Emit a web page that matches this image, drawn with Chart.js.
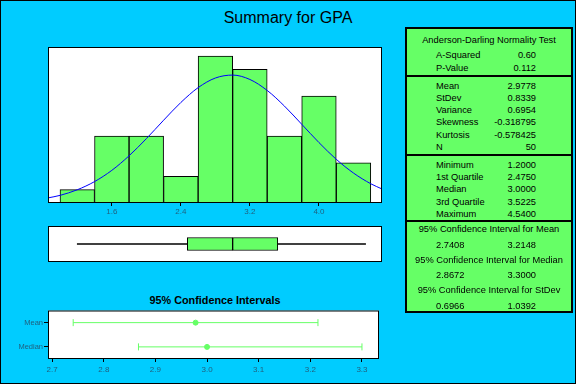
<!DOCTYPE html>
<html>
<head>
<meta charset="utf-8">
<script src="https://cdn.jsdelivr.net/npm/chart.js@4"></script>
<style>
html, body { margin: 0; padding: 0; }
#frame { position: relative; width: 576px; height: 384px; background: #00ccff; overflow: hidden;
  font-family: "Liberation Sans", Arial, sans-serif; }
canvas { position: absolute; }
.t { position: absolute; white-space: nowrap; color: #000; }
.s { font-size: 9.3px; line-height: 12px; }
#border { position: absolute; left: 0; top: 0; width: 576px; height: 384px; box-sizing: border-box; border: 1px solid #000; }
#stats { position: absolute; left: 405px; top: 27px; width: 168px; height: 286px; box-sizing: border-box;
  border: 2px solid #000; background: #66ff66; }
.sep { position: absolute; left: 405px; width: 168px; height: 2px; background: #000; }
</style>
</head>
<body>
<div id="frame">
  <div class="t" style="left:0;width:576px;top:10px;text-align:center;font-size:16px;line-height:16px;">Summary for GPA</div>
  <canvas id="hist" width="334" height="176" style="left:48px;top:47px;"></canvas>
  <canvas id="box" width="334" height="36" style="left:48px;top:226px;"></canvas>
  <div class="t" style="left:48px;width:334px;top:294px;text-align:center;font-size:10.8px;line-height:12px;font-weight:bold;">95% Confidence Intervals</div>
  <canvas id="ci" width="384" height="76" style="left:0;top:305px;"></canvas>
  <div id="stats"></div>
  <div class="sep" style="top:75px;"></div>
  <div class="sep" style="top:154px;"></div>
  <div class="sep" style="top:220px;"></div>
  <div id="statText"></div>
  <div id="border"></div>
</div>
<script>
// histogram of GPA
const binCenters = [1.2, 1.6, 2.0, 2.4, 2.8, 3.2, 3.6, 4.0, 4.4];
const binCounts = [1, 5, 5, 2, 11, 10, 5, 8, 3];
const histTicks = [1.6, 2.4, 3.2, 4.0];

// fitted normal curve
const curveX = [0.86, 1.0, 1.2, 1.4, 1.6, 1.8, 2.0, 2.2, 2.4, 2.6, 2.8, 3.0, 3.2, 3.4, 3.6, 3.8, 4.0, 4.2, 4.4, 4.6, 4.73];
const curveY = [0.38, 0.57, 0.99, 1.60, 2.44, 3.53, 4.81, 6.19, 7.52, 8.63, 9.35, 9.57, 9.24, 8.42, 7.25, 5.89, 4.52, 3.27, 2.24, 1.44, 1.05];

// boxplot: min, q1, median, q3, max
const boxStats = [1.2, 2.475, 3.0, 3.5225, 4.54];

// confidence intervals
const ciLabels = ['Mean', 'Median'];
const ciLow = [2.7408, 2.8672];
const ciEst = [2.9778, 3.0];
const ciHigh = [3.2148, 3.3];
const ciTicks = [2.7, 2.8, 2.9, 3.0, 3.1, 3.2, 3.3];

// summary table
const adLabels = ['A-Squared', 'P-Value'];
const adValues = ['0.60', '0.112'];
const momentLabels = ['Mean', 'StDev', 'Variance', 'Skewness', 'Kurtosis', 'N'];
const momentValues = ['2.9778', '0.8339', '0.6954', '-0.318795', '-0.578425', '50'];
const quantLabels = ['Minimum', '1st Quartile', 'Median', '3rd Quartile', 'Maximum'];
const quantValues = ['1.2000', '2.4750', '3.0000', '3.5225', '4.5400'];
const ciHeaders = ['95% Confidence Interval for Mean', '95% Confidence Interval for Median', '95% Confidence Interval for StDev'];
const ciTableLow = ['2.7408', '2.8672', '0.6966'];
const ciTableHigh = ['3.2148', '3.3000', '1.0392'];

const tickColor = '#20607f';
const green = '#66ff66';
const xMin = 0.861, xMax = 4.73;

// white plot area with a black frame
const frameBox = {
  id: 'frameBox',
  beforeDatasetsDraw(chart) {
    const a = chart.chartArea, c = chart.ctx;
    c.save();
    c.fillStyle = '#fff';
    c.fillRect(a.left, a.top, a.width, a.height);
    c.restore();
  },
  afterDatasetsDraw(chart) {
    const a = chart.chartArea, c = chart.ctx;
    c.save();
    c.strokeStyle = '#000';
    c.lineWidth = 1;
    c.strokeRect(a.left + 0.5, a.top + 0.5, a.width - 1, a.height - 1);
    c.restore();
  }
};

const common = {
  responsive: false,
  animation: false,
  devicePixelRatio: 1,
  plugins: { legend: { display: false }, tooltip: { enabled: false } }
};

new Chart(document.getElementById('hist'), {
  type: 'bar',
  data: {
    datasets: [{
      type: 'line',
      data: curveX.map((x, i) => ({ x: x, y: curveY[i] })),
      borderColor: '#0000ff',
      borderWidth: 1,
      pointRadius: 0,
      cubicInterpolationMode: 'monotone'
    }, {
      type: 'bar',
      data: binCenters.map((x, i) => ({ x: x, y: binCounts[i] })),
      backgroundColor: green,
      borderColor: '#000',
      borderWidth: 1,
      borderSkipped: false,
      barPercentage: 1,
      categoryPercentage: 1
    }]
  },
  options: Object.assign({}, common, {
    scales: {
      x: {
        type: 'linear', min: xMin, max: xMax, offset: false,
        afterBuildTicks: s => { s.ticks = histTicks.map(v => ({ value: v })); },
        afterFit: s => { s.height = 20; },
        grid: { drawOnChartArea: false, offset: false, tickLength: 3, color: '#000' },
        border: { display: false },
        ticks: { color: tickColor, font: { size: 8, family: 'Liberation Sans' }, padding: 1,
          callback: v => v.toFixed(1) }
      },
      y: { display: false, min: 0, max: 11.67 }
    }
  }),
  plugins: [frameBox]
});

new Chart(document.getElementById('box'), {
  type: 'bar',
  data: {
    labels: ['GPA'],
    datasets: [{
      data: [[boxStats[1], boxStats[2]]],
      backgroundColor: green, borderColor: '#000', borderWidth: 1, borderSkipped: false, barThickness: 13
    }, {
      data: [[boxStats[2], boxStats[3]]],
      backgroundColor: green, borderColor: '#000', borderWidth: 1, borderSkipped: false, barThickness: 13
    }, {
      data: [[boxStats[0], boxStats[4]]],
      backgroundColor: '#000', borderWidth: 0, barThickness: 1
    }]
  },
  options: Object.assign({}, common, {
    indexAxis: 'y',
    grouped: false,
    scales: {
      x: { type: 'linear', min: xMin, max: xMax, display: false },
      y: { display: false }
    }
  }),
  plugins: [frameBox]
});

const ciSets = ciLabels.map((lab, i) => ({
  data: [{ x: ciLow[i], y: lab }, { x: ciHigh[i], y: lab }],
  showLine: true,
  borderColor: green,
  borderWidth: 1,
  pointStyle: 'line',
  rotation: 90,
  pointRadius: 3.5,
  pointBorderColor: green,
  pointBorderWidth: 1
}));
ciSets.unshift({
  data: ciEst.map((x, i) => ({ x: x, y: ciLabels[i] })),
  pointStyle: 'circle',
  pointRadius: 2.5,
  backgroundColor: green,
  borderColor: green
});

new Chart(document.getElementById('ci'), {
  type: 'scatter',
  data: { datasets: ciSets },
  options: Object.assign({}, common, {
    layout: { padding: { top: 4, right: 2 } },
    scales: {
      x: {
        type: 'linear', min: 2.692, max: 3.333,
        afterBuildTicks: s => { s.ticks = ciTicks.map(v => ({ value: v })); },
        afterFit: s => { s.height = 22; },
        grid: { drawOnChartArea: false, tickLength: 3, color: '#000' },
        border: { display: false },
        ticks: { color: tickColor, font: { size: 8, family: 'Liberation Sans' }, padding: 3,
          callback: v => v.toFixed(1) }
      },
      y: {
        type: 'category', labels: ciLabels, offset: true,
        afterFit: s => { s.width = 48; },
        grid: { drawOnChartArea: false, offset: false, tickLength: 4, color: '#000' },
        border: { display: false },
        ticks: { color: tickColor, font: { size: 7.5, family: 'Liberation Sans' }, padding: 1 }
      }
    }
  }),
  plugins: [frameBox]
});

// summary table text
const holder = document.getElementById('statText');
function put(text, baseline, style) {
  const d = document.createElement('div');
  d.className = 't s';
  d.textContent = text;
  d.style.cssText += 'top:' + (baseline - 9.3) + 'px;' + style;
  holder.appendChild(d);
}
function rows(labels, values, firstBase, step) {
  labels.forEach((lab, i) => {
    put(lab, firstBase + i * step, 'left:436px;');
    put(values[i], firstBase + i * step, 'left:436px;width:100px;text-align:right;');
  });
}
put('Anderson-Darling Normality Test', 43.3, 'left:405px;width:168px;text-align:center;');
rows(adLabels, adValues, 58, 13);
rows(momentLabels, momentValues, 89, 12.2);
rows(quantLabels, quantValues, 168.3, 12.2);
ciHeaders.forEach((h, i) => {
  put(h, 232.7 + i * 30.3, 'left:405px;width:168px;text-align:center;');
  put(ciTableLow[i], 248 + i * 30.5, 'left:436px;');
  put(ciTableHigh[i], 248 + i * 30.5, 'left:436px;width:100px;text-align:right;');
});
</script>
</body>
</html>
